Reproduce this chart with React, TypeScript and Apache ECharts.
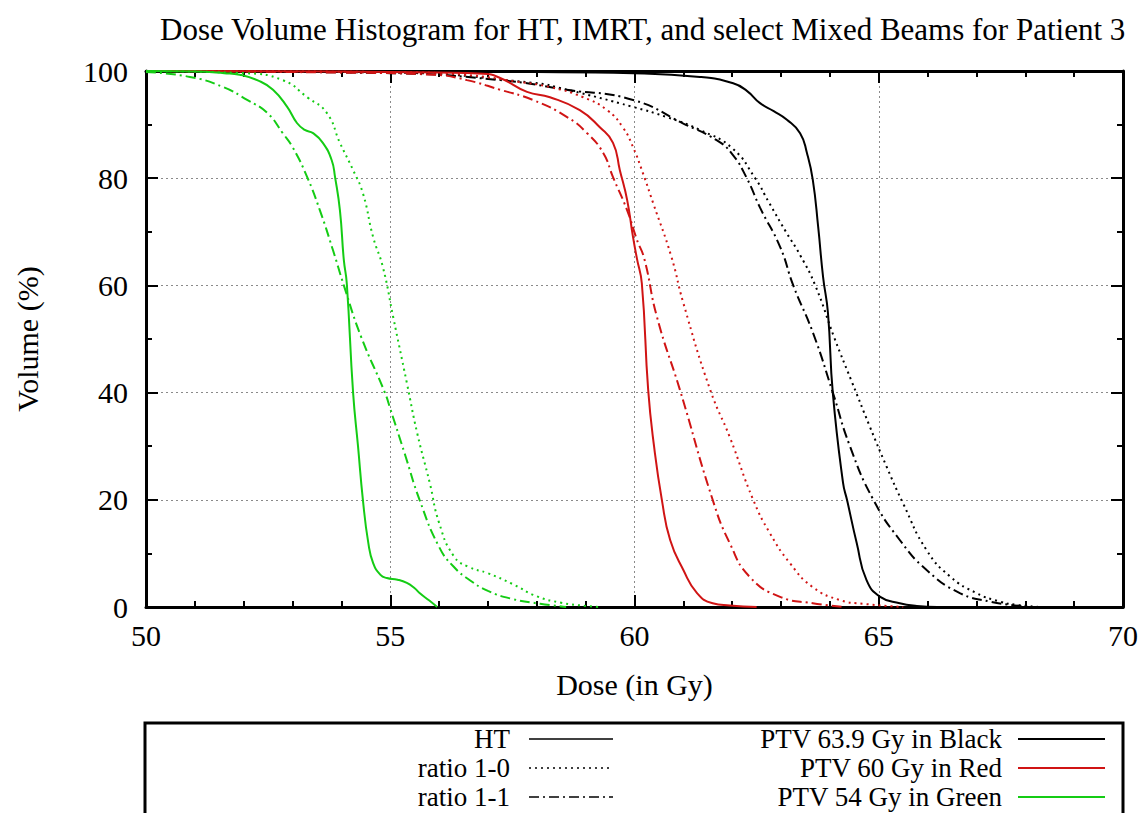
import React, { useEffect, useRef } from "react";
import * as echarts from "echarts";

// ---- data (dose in Gy, volume in %) ----
const xTicks = [50, 55, 60, 65, 70];
const yTicks = [0, 20, 40, 60, 80, 100];

const ht54 = [[50,100],[51,99.9],[51.6,99.6],[51.92,99.3],[52.3,98.2],[52.6,96.5],[52.89,93.3],[53.09,90.3],[53.25,89],[53.42,88.4],[53.62,86.6],[53.8,83.4],[53.87,80.2],[53.97,74],[54.05,64.7],[54.11,60.4],[54.24,39.9],[54.34,30],[54.44,20],[54.55,12],[54.65,8.2],[54.8,6],[54.93,5.4],[55.15,5.1],[55.34,4.5],[55.5,3.5],[55.6,2.6],[55.8,1.2],[55.96,0]];
const r10_54 = [[50,100],[52,99.6],[52.8,98.3],[53.3,95.1],[53.7,92.2],[53.97,86.6],[54.24,81.5],[54.44,77.2],[54.65,69],[54.85,63.4],[55.06,54.1],[55.34,41.8],[55.55,32.5],[55.81,23.1],[56.0,15.7],[56.3,9.5],[56.6,7.5],[57.0,6.3],[57.5,4.3],[58.0,2.0],[58.5,0.8],[59,0.2],[59.3,0]];
const r11_54 = [[50,99.8],[50.9,98.9],[51.58,97],[52.07,94.6],[52.48,92.2],[52.8,88.4],[53.0,85.8],[53.3,80.2],[53.56,74],[53.83,66.5],[54.05,60],[54.4,50.5],[54.89,40],[55.0,37],[55.3,28.5],[55.6,20],[56.0,11.2],[56.3,7.5],[56.63,5],[57.0,3],[57.5,1.5],[58.07,0.6],[58.6,0]];

const ht60 = [[50,100],[54,99.9],[56,99.7],[56.9,99.5],[57.25,98.7],[57.8,96.1],[58.27,95.1],[58.88,92.7],[59.29,89.5],[59.56,86.6],[59.7,81.5],[59.85,75.9],[59.97,69],[60.05,65],[60.15,60.4],[60.28,40.5],[60.4,30],[60.56,20],[60.73,12.5],[61.0,6.9],[61.28,2.6],[61.6,0.7],[61.95,0.3],[62.5,0]];
const r10_60 = [[50,100],[55,99.8],[56.5,99.3],[57.6,98],[58.27,97],[58.95,95.1],[59.44,92.7],[59.76,89.5],[59.97,85.8],[60.17,81],[60.38,75.4],[60.75,65.5],[61.0,56.7],[61.55,40.5],[61.95,31.7],[62.43,20],[62.77,13.8],[63.18,8.2],[63.65,3.7],[64.2,1.3],[64.68,0.6],[65.5,0]];
const r11_60 = [[50,100],[54,99.7],[55.9,99.3],[56.57,98.3],[57.25,96.5],[57.92,94.6],[58.62,91.4],[59.03,88.4],[59.36,84.7],[59.56,80.2],[59.85,74],[60.05,68.5],[60.2,65],[60.46,54.1],[60.93,40.5],[61.6,20],[61.95,11.9],[62.36,5.6],[62.98,1.9],[63.65,0.7],[64.3,0]];

const ht639 = [[50,100],[58,99.8],[59.97,99.6],[61.34,98.9],[62.02,97.7],[62.3,96.3],[62.57,94],[62.85,92.5],[63.12,90.9],[63.39,88.4],[63.53,84.7],[63.65,79.7],[63.76,70.9],[63.86,61.6],[63.96,54.9],[64.06,39.9],[64.27,23.1],[64.35,20],[64.55,11.9],[64.75,5],[65.03,1.9],[65.43,0.7],[65.78,0.2],[66.2,0]];
const r10_639 = [[50,100],[55,99.7],[57.92,97.8],[58.62,96.5],[59.97,93.3],[60.66,91.4],[61.34,89],[62.0,85.6],[62.47,80],[62.75,75.5],[63.1,70],[63.4,65.5],[63.7,60],[64.1,50],[64.45,42],[64.82,33.6],[65.16,26.2],[65.5,19.3],[65.98,10.6],[66.46,5.7],[67.0,2.6],[67.48,1.0],[67.82,0.4],[68.3,0]];
const r11_639 = [[50,100],[55,99.6],[57.25,98.3],[58.61,96.5],[59.97,94.6],[61.0,90.2],[61.68,87.1],[62.0,84.5],[62.3,80],[62.57,74.5],[62.98,67.2],[63.25,60],[63.66,51],[64.06,40],[64.41,30],[64.89,20],[65.43,12.5],[65.98,6.9],[66.66,2.6],[67.28,1.0],[67.69,0.4],[68.1,0]];

const methodNames = ["HT", "ratio 1-0", "ratio 1-1"];
const ptvNames = ["PTV 63.9 Gy in Black", "PTV 60 Gy in Red", "PTV 54 Gy in Green"];

const BLACK = "#000000";
const RED = "#d01414";
const GREEN = "#14cc14";
const DOTTED = [2, 4];
const DASHDOT = [10, 4, 2, 4];
const FONT = "'Liberation Serif', 'Times New Roman', serif";

function mk(name: string, data: number[][], color: string, type: any) {
  return {
    type: "line",
    name,
    data,
    showSymbol: false,
    symbol: "none",
    smooth: 0.5,
    silent: true,
    lineStyle: { color, width: 2, type },
    xAxisIndex: 0,
    yAxisIndex: 0,
  };
}

export default function App() {
  const ref = useRef<HTMLDivElement>(null);
  useEffect(() => {
    if (!ref.current) return;
    const chart = echarts.init(ref.current, null, { renderer: "svg" });
    const tickStyle = { color: "#000", width: 2 };
    const axisCommon = (extra: any) => ({
      type: "value",
      axisLine: { show: true, onZero: false, lineStyle: { color: "#000", width: 3 } },
      axisTick: { show: true, inside: true, length: 12, lineStyle: tickStyle },
      minorTick: { show: true, length: 6, lineStyle: tickStyle },
      ...extra,
    });
    const labelStyle = { fontFamily: FONT, fontSize: 30, color: "#000" };
    const gridLine = { show: true, lineStyle: { color: "#8a8a8a", width: 1, type: [2, 3] } };

    const legendX1 = 510, legendX2 = 1002;
    const rows = [739, 768, 797];
    const methodStyles = [
      { stroke: BLACK, lineDash: null },
      { stroke: BLACK, lineDash: DOTTED },
      { stroke: BLACK, lineDash: DASHDOT },
    ];
    const ptvColors = [BLACK, RED, GREEN];
    const graphics: any[] = [
      {
        type: "rect",
        shape: { x: 145, y: 723, width: 978, height: 130 },
        style: { fill: "none", stroke: "#000", lineWidth: 3 },
      },
    ];
    methodNames.forEach((n, i) => {
      graphics.push({
        type: "text",
        x: legendX1, y: rows[i],
        style: { text: n, align: "right", verticalAlign: "middle", font: `27px ${FONT}`, fill: "#000" },
      });
      graphics.push({
        type: "line",
        shape: { x1: 529, y1: rows[i], x2: 613, y2: rows[i] },
        style: { stroke: methodStyles[i].stroke, lineWidth: 1.5, lineDash: methodStyles[i].lineDash },
      });
    });
    ptvNames.forEach((n, i) => {
      graphics.push({
        type: "text",
        x: legendX2, y: rows[i],
        style: { text: n, align: "right", verticalAlign: "middle", font: `27px ${FONT}`, fill: "#000" },
      });
      graphics.push({
        type: "line",
        shape: { x1: 1018, y1: rows[i], x2: 1105, y2: rows[i] },
        style: { stroke: ptvColors[i], lineWidth: 2 },
      });
    });

    chart.setOption({
      animation: false,
      backgroundColor: "#fff",
      title: {
        text: "Dose Volume Histogram for HT, IMRT, and select Mixed Beams for Patient 3",
        left: 155,
        top: 9,
        textStyle: { fontFamily: FONT, fontSize: 31, fontWeight: "normal", color: "#000" },
      },
      grid: { left: 146, right: 23, top: 71, bottom: 206, containLabel: false },
      xAxis: [
        axisCommon({
          position: "bottom",
          min: xTicks[0], max: xTicks[xTicks.length - 1], interval: 5,
          minorTick: { show: true, splitNumber: 5, length: 6, lineStyle: tickStyle },
          axisLabel: { ...labelStyle, margin: 13 },
          splitLine: gridLine,
          name: "Dose (in Gy)",
          nameLocation: "middle",
          nameGap: 62,
          nameTextStyle: labelStyle,
        }),
        axisCommon({
          position: "top",
          min: xTicks[0], max: xTicks[xTicks.length - 1], interval: 5,
          minorTick: { show: true, splitNumber: 5, length: 6, lineStyle: tickStyle },
          axisLabel: { show: false },
          splitLine: { show: false },
        }),
      ],
      yAxis: [
        axisCommon({
          position: "left",
          min: yTicks[0], max: yTicks[yTicks.length - 1], interval: 20,
          minorTick: { show: true, splitNumber: 2, length: 6, lineStyle: tickStyle },
          axisLabel: { ...labelStyle, margin: 18 },
          splitLine: gridLine,
          name: "Volume (%)",
          nameLocation: "middle",
          nameRotate: 90,
          nameGap: 104,
          nameTextStyle: labelStyle,
        }),
        axisCommon({
          position: "right",
          min: yTicks[0], max: yTicks[yTicks.length - 1], interval: 20,
          minorTick: { show: true, splitNumber: 2, length: 6, lineStyle: tickStyle },
          axisLabel: { show: false },
          splitLine: { show: false },
        }),
      ],
      series: [
        mk("HT PTV 63.9", ht639, BLACK, "solid"),
        mk("ratio 1-0 PTV 63.9", r10_639, BLACK, DOTTED),
        mk("ratio 1-1 PTV 63.9", r11_639, BLACK, DASHDOT),
        mk("HT PTV 60", ht60, RED, "solid"),
        mk("ratio 1-0 PTV 60", r10_60, RED, DOTTED),
        mk("ratio 1-1 PTV 60", r11_60, RED, DASHDOT),
        mk("HT PTV 54", ht54, GREEN, "solid"),
        mk("ratio 1-0 PTV 54", r10_54, GREEN, DOTTED),
        mk("ratio 1-1 PTV 54", r11_54, GREEN, DASHDOT),
      ],
      graphic: graphics,
    });
    return () => chart.dispose();
  }, []);
  return (
    <div
      ref={ref}
      style={{ position: "absolute", left: 0, top: 0, width: 1146, height: 813, background: "#fff" }}
    />
  );
}
